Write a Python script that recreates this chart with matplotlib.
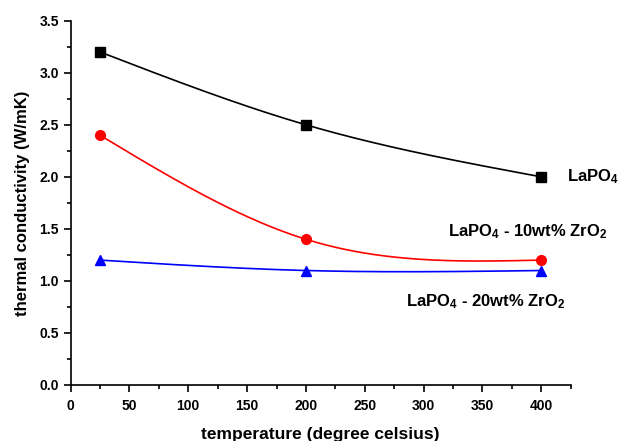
import numpy as np
import matplotlib
matplotlib.use("Agg")
import matplotlib.pyplot as plt
from matplotlib.ticker import MultipleLocator

# data
temps = [25, 200, 400]
k_lapo4 = [3.2, 2.5, 2.0]
k_10wt = [2.4, 1.4, 1.2]
k_20wt = [1.2, 1.1, 1.1]


def natural_spline(x, y, n=200):
    # natural cubic spline through the points (like Origin's spline connect)
    x = np.asarray(x, float)
    y = np.asarray(y, float)
    m = len(x)
    h = np.diff(x)
    A = np.zeros((m, m))
    b = np.zeros(m)
    A[0, 0] = 1
    A[-1, -1] = 1
    for i in range(1, m - 1):
        A[i, i - 1] = h[i - 1]
        A[i, i] = 2 * (h[i - 1] + h[i])
        A[i, i + 1] = h[i]
        b[i] = 6 * ((y[i + 1] - y[i]) / h[i] - (y[i] - y[i - 1]) / h[i - 1])
    M = np.linalg.solve(A, b)
    xs = np.linspace(x[0], x[-1], n)
    ys = np.empty_like(xs)
    for j, t in enumerate(xs):
        i = min(np.searchsorted(x, t, side="right") - 1, m - 2)
        a = x[i + 1] - t
        c = t - x[i]
        ys[j] = (M[i] * a ** 3 / (6 * h[i]) + M[i + 1] * c ** 3 / (6 * h[i])
                 + (y[i] / h[i] - M[i] * h[i] / 6) * a
                 + (y[i + 1] / h[i] - M[i + 1] * h[i] / 6) * c)
    return xs, ys


plt.rcParams["font.family"] = "Liberation Sans"
plt.rcParams["font.weight"] = "bold"
plt.rcParams["mathtext.fontset"] = "custom"
plt.rcParams["mathtext.rm"] = "Liberation Sans:bold"
plt.rcParams["mathtext.bf"] = "Liberation Sans:bold"
plt.rcParams["mathtext.it"] = "Liberation Sans:bold"

fig = plt.figure(figsize=(6.19, 4.41), dpi=100)
ax = fig.add_axes([0.114, 0.127, 0.808, 0.826])

series = [(k_lapo4, "black", "s", 6.5), (k_10wt, "red", "o", 7), (k_20wt, "blue", "^", 7.5)]
for vals, col, mk, ms in series:
    xs, ys = natural_spline(temps, vals)
    ax.plot(xs, ys, color=col, lw=1.2)
    ax.plot(temps, vals, linestyle="none", marker=mk, color=col, ms=ms)

ax.set_xlim(0, 425)
ax.set_ylim(0, 3.5)
ax.xaxis.set_major_locator(MultipleLocator(50))
ax.xaxis.set_minor_locator(MultipleLocator(25))
ax.yaxis.set_major_locator(MultipleLocator(0.5))
ax.yaxis.set_minor_locator(MultipleLocator(0.25))
ax.yaxis.set_major_formatter(plt.FormatStrFormatter("%.1f"))

for s in ["top", "right"]:
    ax.spines[s].set_visible(False)
for s in ["left", "bottom"]:
    ax.spines[s].set_linewidth(1.2)
ax.tick_params(which="major", direction="out", length=5, width=1.2, labelsize=10)
ax.tick_params(which="minor", direction="out", length=3, width=1.2)
ax.tick_params(axis="x", pad=5)
for lab in ax.get_xticklabels() + ax.get_yticklabels():
    lab.set_fontweight("bold")

ax.set_xlabel("temperature (degree celsius)", fontsize=12.5, fontweight="bold", labelpad=10)
ax.set_ylabel("thermal conductivity (W/mK)", fontsize=12, fontweight="bold", labelpad=7)

ax.text(422, 2.0, r"LaPO$_4$", fontsize=12, fontweight="bold", va="center", clip_on=False)
ax.text(321, 1.47, r"LaPO$_4$ - 10wt% ZrO$_2$", fontsize=12, fontweight="bold", va="center", clip_on=False)
ax.text(285, 0.80, r"LaPO$_4$ - 20wt% ZrO$_2$", fontsize=12, fontweight="bold", va="center", clip_on=False)

fig.savefig("out.png", dpi=100)
